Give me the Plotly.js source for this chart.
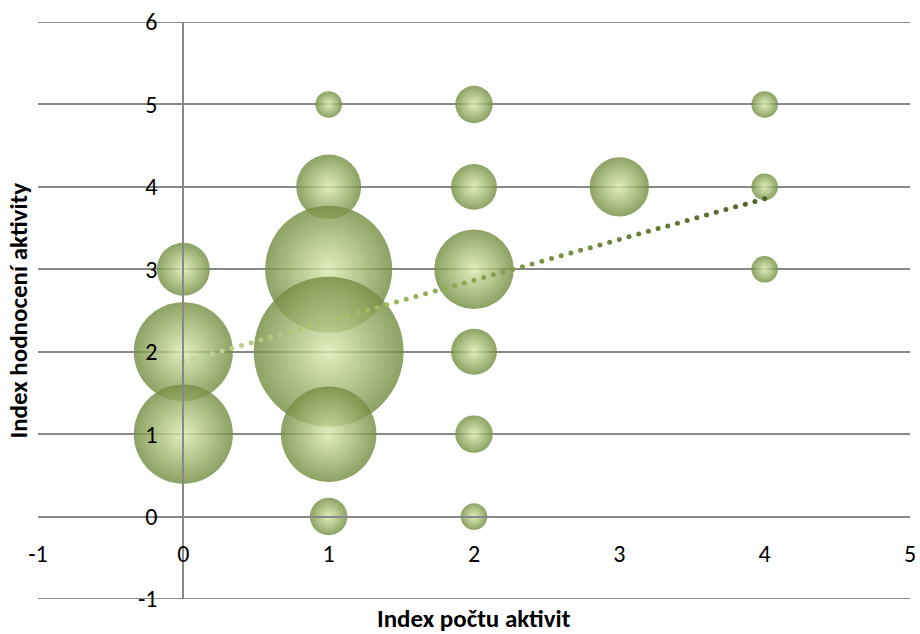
<!DOCTYPE html>
<html>
<head>
<meta charset="utf-8">
<script src="https://cdn.plot.ly/plotly-3.0.1.min.js"></script>
<style>html,body{margin:0;padding:0;background:#fff;}#chart{width:920px;height:634px;}</style>
</head>
<body>
<div id="chart"></div>
<script>
// Data: bubble positions (activity count index, activity rating index) and bubble sizes (counts)
const activityCountIndex = [0, 0, 0, 1, 1, 1, 1, 1, 1, 2, 2, 2, 2, 2, 2, 3, 4, 4, 4];
const activityRatingIndex = [3, 2, 1, 5, 4, 3, 2, 1, 0, 5, 4, 3, 2, 1, 0, 4, 5, 4, 3];
const bubbleCounts = [4, 14, 14, 1, 6, 23, 32, 13, 2, 2, 3, 9, 3, 2, 1, 5, 1, 1, 1];
const xTickVals = [-1, 0, 1, 2, 3, 4, 5];
const yTickVals = [-1, 0, 1, 2, 3, 4, 5, 6];
const xTitle = 'Index počtu aktivit';
const yTitle = 'Index hodnocení aktivity';

// Linear trendline (least squares, unweighted) computed from the data
const n = activityCountIndex.length;
const mx = activityCountIndex.reduce((a, b) => a + b, 0) / n;
const my = activityRatingIndex.reduce((a, b) => a + b, 0) / n;
let sxy = 0, sxx = 0;
for (let i = 0; i < n; i++) {
  sxy += (activityCountIndex[i] - mx) * (activityRatingIndex[i] - my);
  sxx += (activityCountIndex[i] - mx) ** 2;
}
const slope = sxy / sxx;
const intercept = my - slope * mx;
const xMin = Math.min(...activityCountIndex), xMax = Math.max(...activityCountIndex);
const nDots = 60;
const trendX = [], trendY = [], trendC = [];
for (let i = 0; i <= nDots; i++) {
  const x = xMin + (xMax - xMin) * i / nDots;
  trendX.push(x);
  trendY.push(intercept + slope * x);
  trendC.push(i / nDots);
}

const font = 'Carlito, Lato, "Open Sans", sans-serif';
const gray = '#888888';

const bubbles = {
  type: 'scatter', mode: 'markers',
  x: activityCountIndex, y: activityRatingIndex,
  marker: {
    size: bubbleCounts, sizemode: 'area', sizeref: 0.00285,
    color: '#748d42', opacity: 0.82,
    gradient: {type: 'radial', color: '#dcebb0'},
    line: {width: 0}
  },
  hoverinfo: 'x+y+text', text: bubbleCounts.map(String),
  showlegend: false
};

const trend = {
  type: 'scatter', mode: 'markers',
  x: trendX, y: trendY,
  marker: {
    size: 5, color: trendC,
    colorscale: [[0, '#c3d69b'], [0.35, '#9bbb59'], [1, '#4f6228']],
    showscale: false, line: {width: 0}
  },
  hoverinfo: 'skip', showlegend: false
};

// gridlines at the range edges (Plotly skips those), drawn from the tick values
const edgeLines = [yTickVals[0], yTickVals[yTickVals.length - 1]].map(v => ({
  type: 'line', xref: 'paper', yref: 'y', x0: 0, x1: 1, y0: v, y1: v,
  line: {color: gray, width: 2}, layer: 'below'
}));

const layout = {
  width: 920, height: 634,
  margin: {l: 38, r: 10, t: 22, b: 35, pad: 0},
  paper_bgcolor: '#ffffff', plot_bgcolor: '#ffffff',
  font: {family: font, size: 24, color: '#000'},
  showlegend: false,
  xaxis: {
    range: [-1, 5], tickvals: xTickVals, ticktext: xTickVals.map(String),
    anchor: 'free', position: 1 / 7,
    showline: true, linecolor: gray, linewidth: 2,
    showgrid: false, zeroline: false, ticks: '',
    ticklabelstandoff: 16,
    tickfont: {family: font, size: 24, color: '#000'}
  },
  yaxis: {
    range: [-1, 6], tickvals: yTickVals, ticktext: yTickVals.map(String),
    anchor: 'free', position: 1 / 6,
    showline: true, linecolor: gray, linewidth: 2,
    showgrid: true, gridcolor: gray, gridwidth: 2,
    zeroline: false, ticks: '',
    ticklabelstandoff: 20,
    tickfont: {family: font, size: 24, color: '#000'}
  },
  shapes: edgeLines,
  annotations: [
    {text: '<b>' + xTitle + '</b>', xref: 'paper', yref: 'paper', x: 0.5, y: 0,
     yshift: -19, xanchor: 'center', yanchor: 'middle', showarrow: false,
     font: {family: font, size: 25, color: '#000'}},
    {text: '<b>' + yTitle + '</b>', xref: 'paper', yref: 'paper', x: 0, y: 0.5,
     xshift: -20, xanchor: 'center', yanchor: 'middle', textangle: -90, showarrow: false,
     font: {family: font, size: 25, color: '#000'}}
  ]
};

Plotly.newPlot('chart', [bubbles, trend], layout, {displayModeBar: false, staticPlot: true});
</script>
</body>
</html>
